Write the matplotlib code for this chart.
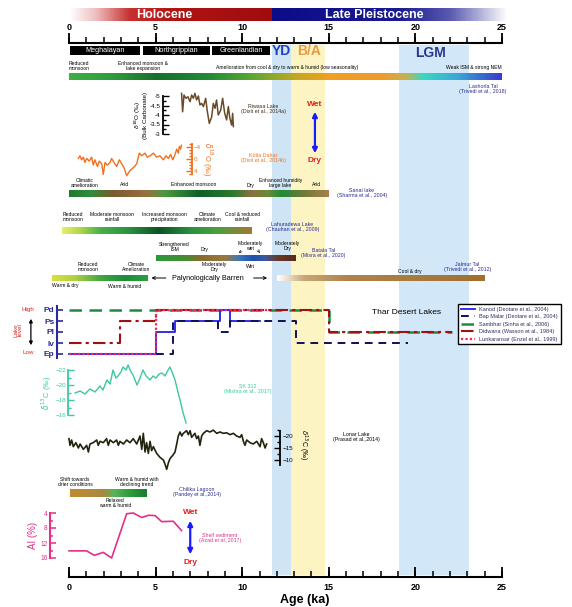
import numpy as np
import matplotlib
matplotlib.use('Agg')
import matplotlib.pyplot as plt
from matplotlib.colors import LinearSegmentedColormap

plt.rcParams['font.family'] = ['Liberation Sans', 'DejaVu Sans']

W, H = 572, 607
PX0, PXK = 69, 17.32   # pixel of 0 ka, pixels per ka

# ---------------- data ----------------
age_ticks = np.arange(0, 26, 1)
age_major = np.arange(0, 26, 5)

stage_names = ['Meghalayan', 'Northgrippian', 'Greenlandian']
stage_edges = [0, 4.2, 8.2, 11.7]
yd_span = (11.7, 12.8)
ba_span = (12.8, 14.8)
lgm_span = (19.05, 23.1)

riwasa_age = [6.50, 6.56, 6.64, 6.75, 6.87, 6.99, 7.08, 7.18, 7.27, 7.37, 7.47, 7.56, 7.66, 7.76,
              7.89, 7.99, 8.10, 8.24, 8.33, 8.43, 8.52, 8.62, 8.76, 8.87, 8.99, 9.10, 9.20, 9.29,
              9.39, 9.45, 9.49]
riwasa_d18o = [-5.14, -4.17, -5.05, -4.88, -4.96, -4.70, -5.05, -4.88, -5.14, -4.79, -5.00, -4.53,
               -4.61, -4.44, -4.88, -4.17, -3.56, -3.91, -4.61, -4.35, -4.79, -4.00, -4.26, -4.88,
               -4.09, -3.74, -4.44, -3.82, -3.47, -4.09, -3.39]

kotla_age = [0.54, 0.63, 0.73, 0.83, 0.92, 1.02, 1.17, 1.31, 1.40, 1.50, 1.64, 1.75, 1.89, 1.98,
             2.08, 2.21, 2.37, 2.46, 2.60, 2.75, 2.91, 3.04, 3.18, 3.33, 3.52, 3.71, 3.91, 4.06,
             4.20, 4.39, 4.52, 4.68, 4.87, 5.06, 5.25, 5.45, 5.60, 5.74, 5.87, 5.99, 6.12, 6.22,
             6.31, 6.37, 6.45, 6.49]
kotla_d18o = [-0.19, -1.07, 0.27, -0.62, 1.16, -0.19, 0.71, -0.62, 2.04, 0.27, 2.49, 0.71, 1.60,
              5.16, 1.16, 2.04, 1.16, -0.19, 1.16, 2.49, 0.27, 1.60, 2.93, 5.60, 3.82, 2.93, 1.60,
              -1.96, -1.07, -1.96, -0.62, -1.07, -1.96, -0.62, -1.07, 0.27, -1.07, -0.19, -1.51,
              0.27, -1.51, -3.29, -1.96, -4.18, -3.29, -4.62]

teal_age = [0.35, 0.64, 0.92, 1.21, 1.50, 1.79, 1.96, 2.19, 2.37, 2.54, 2.71, 2.83, 3.00, 3.12,
            3.29, 3.41, 3.58, 3.70, 3.81, 3.93, 4.10, 4.27, 4.45, 4.68, 4.85, 5.02, 5.20, 5.37,
            5.54, 5.72, 5.83, 5.95, 6.12, 6.29, 6.41, 6.52, 6.64, 6.76]
teal_d13c = [-18.93, -19.20, -18.80, -19.47, -19.07, -19.87, -19.33, -20.67, -20.13, -22.00,
             -20.93, -21.20, -21.73, -22.40, -22.00, -22.67, -21.73, -21.33, -20.67, -20.00,
             -20.93, -22.00, -21.20, -20.67, -21.20, -20.93, -21.47, -21.60, -21.20, -22.00,
             -22.40, -21.73, -20.67, -19.07, -18.00, -16.93, -15.87, -14.93]

lonar_age = [0.00, 0.06, 0.15, 0.25, 0.40, 0.54, 0.64, 0.83, 1.02, 1.12, 1.21, 1.40, 1.60, 1.69,
             1.79, 1.98, 2.17, 2.27, 2.37, 2.56, 2.75, 2.85, 2.94, 3.14, 3.33, 3.52, 3.71, 3.91,
             4.10, 4.20, 4.29, 4.39, 4.48, 4.58, 4.68, 4.77, 4.87, 5.06, 5.25, 5.45, 5.54, 5.64,
             5.74, 5.83, 6.02, 6.12, 6.22, 6.31, 6.41, 6.51, 6.60, 6.79, 6.89, 6.99, 7.08, 7.27,
             7.37, 7.47, 7.56, 7.66, 7.76, 7.95, 8.14, 8.33, 8.53, 8.72, 8.91, 9.10, 9.30, 9.49,
             9.68, 9.87, 9.97, 10.07, 10.16, 10.26, 10.45, 10.64, 10.84, 11.03, 11.12, 11.22,
             11.32, 11.41]
lonar_d13c = [-18.89, -16.11, -18.33, -15.56, -17.22, -15.00, -16.67, -14.44, -16.11, -13.33,
              -16.67, -17.22, -18.33, -16.11, -17.78, -17.22, -18.89, -16.11, -18.33, -17.22,
              -18.33, -16.11, -17.78, -16.67, -18.33, -17.22, -18.89, -16.67, -20.00, -14.44,
              -21.11, -13.33, -17.22, -12.78, -17.78, -13.89, -15.56, -12.78, -11.11, -10.00,
              -8.33, -6.11, -8.89, -10.56, -12.22, -13.33, -16.67, -20.00, -21.67, -20.00,
              -21.11, -22.22, -20.56, -22.22, -19.44, -21.11, -18.89, -20.00, -16.11, -20.00,
              -21.11, -22.22, -21.67, -22.44, -21.11, -21.67, -21.11, -21.33, -20.56, -21.11,
              -20.00, -19.44, -20.56, -17.78, -16.11, -18.33, -17.22, -16.67, -17.78, -15.56,
              -18.89, -17.22, -15.00, -16.67]

ai_age = [0, 1.02, 1.46, 1.98, 2.46, 3.33, 3.71, 4.2, 4.6, 4.97, 5.35, 6.02, 6.5]
ai_pct = [14.1, 14.1, 15.3, 14.5, 16.0, 4.2, 4.0, 5.2, 4.6, 4.7, 6.3, 6.2, 8.7]

lake_levels = ['Ep', 'Iv', 'Pl', 'Ps', 'Pd']
kanod_age = [0, 5.05, 5.05, 6.1, 6.1, 8.7, 8.7, 9.3, 9.3, 11.0]
kanod_lvl = [0, 0, 2, 2, 3, 3, 4, 4, 3, 3]
bap_age = [5.0, 6.0, 6.0, 8.6, 8.6, 9.3, 9.3, 13.1, 13.1, 19.6]
bap_lvl = [0, 0, 3, 3, 2, 2, 3, 3, 1, 1]
sambhar_age = [0, 15.0, 15.0, 22.1]
sambhar_lvl = [4, 4, 2, 2]
didwana_age = [0, 2.95, 2.95, 5.05, 5.05, 15.0, 15.0, 22.1]
didwana_lvl = [1, 1, 3, 3, 4, 4, 2, 2]
lunk_age = [0, 5.05, 5.05, 11.5]
lunk_lvl = [0, 0, 4, 4]

holocene_stops = [(0, '#ffffff'), (1.5, '#eec0c0'), (3.5, '#c83030'), (6, '#b01414'), (11.7, '#a00c0c')]
pleist_stops = [(11.7, '#0c0c88'), (19, '#1a1a90'), (22, '#5a5ab0'), (25.3, '#ffffff')]
lashorla_stops = [(0, '#3cb043'), (2.5, '#2e9a3e'), (5, '#16702c'), (8, '#238a36'), (10.5, '#5aa632'),
                  (13, '#c0a824'), (15, '#f0a020'), (18, '#f29a2a'), (19.5, '#c8b050'),
                  (20.5, '#38d8c0'), (22.5, '#3aa8d8'), (25, '#3c3cc8')]
sanai_stops = [(0, '#1f7a30'), (1.2, '#2e8e3a'), (2.5, '#7a5a30'), (4.5, '#9a7040'), (5.5, '#4a9a40'),
               (7.5, '#106028'), (9.5, '#2a7a30'), (10.5, '#8a7040'), (11.5, '#6a8a3a'),
               (12.3, '#1f8a35'), (13.5, '#6a7a3a'), (15, '#a88048')]
lahura_stops = [(-0.4, '#e6ec70'), (0.6, '#b0d848'), (1.8, '#48b048'), (3.5, '#2a9040'),
                (5.2, '#0c5426'), (7, '#2a9040'), (8.5, '#48a040'), (9.6, '#7a8a3a'), (10.55, '#a07838')]
batala_stops = [(5.0, '#2a9a3a'), (6.8, '#4a8a30'), (7.6, '#8a6a30'), (9.0, '#9a7a40'), (9.8, '#3a78b8'),
                (10.6, '#1f4fb0'), (11.3, '#3a5aa0'), (12.0, '#6a3a28'), (13.05, '#5a2a1a')]
jalmur_left_stops = [(-1.0, '#d8e040'), (0.3, '#b0d040'), (1.8, '#40a840'), (3.2, '#1e8c3a'), (4.5, '#2aa040')]
jalmur_right_stops = [(12.0, '#ffffff'), (13.5, '#c8a878'), (16, '#b0844a'), (24, '#a07030')]
chilika_stops = [(0.06, '#c08a30'), (2.0, '#a88a40'), (2.6, '#58b458'), (3.6, '#2a9a3a'), (4.5, '#1a7a30')]

NAVY = '#2b2b8f'

# ---------------- figure ----------------
fig = plt.figure(figsize=(W / 100, H / 100), dpi=100)
ax = fig.add_axes([0, 0, 1, 1])
ax.axis('off')


def box(k0, k1, y0, y1):
    return [(PX0 + PXK * k0) / W, 1 - y1 / H, PXK * (k1 - k0) / W, (y1 - y0) / H]


def grad_bar(stops, y0, y1, z=2):
    ks = [s[0] for s in stops]
    k0, k1 = ks[0], ks[-1]
    cm = LinearSegmentedColormap.from_list('g', [((k - k0) / (k1 - k0), c) for k, c in stops])
    ax.imshow(np.linspace(0, 1, 300)[None, :], cmap=cm, aspect='auto',
              extent=[k0, k1, y1, y0], zorder=z, interpolation='bilinear')


def lab(x, y, s, c='black', fs=3.6, ha='center', **kw):
    ax.text(x, y, s, color=c, fontsize=fs, ha=ha, va='center', linespacing=0.95, zorder=6, **kw)


def wetdry(x, yw, yd):
    lab(x, yw, 'Wet', c='#e02020', fs=6, fontweight='bold')
    lab(x, yd, 'Dry', c='#e02020', fs=6, fontweight='bold')
    ax.annotate('', xy=(x, yw + 5), xytext=(x, yd - 5),
                arrowprops=dict(arrowstyle='<|-|>', color='#1a1aff', lw=1.6, mutation_scale=7))


# shaded intervals
for span, col in [(yd_span, '#cfe5f5'), (ba_span, '#fdf4c4'), (lgm_span, '#d2e7f7')]:
    ax.fill_between(span, 45, 575, color=col, zorder=0, lw=0)

# era bars
grad_bar(holocene_stops, 8, 21)
grad_bar(pleist_stops, 8, 21)
lab(5.5, 14.5, 'Holocene', c='white', fs=9, fontweight='bold')
lab(17.6, 14.5, 'Late Pleistocene', c='white', fs=9, fontweight='bold')

# top and bottom age axes
for ybase in [43, 577]:
    ax.plot([0, 25], [ybase, ybase], color='black', lw=1.5, zorder=5)
    ax.vlines(age_ticks, ybase - 6, ybase, color='black', lw=1.1, zorder=5)
    ax.vlines(age_major, ybase - 10, ybase, color='black', lw=1.3, zorder=5)
for t in age_major:
    lab(t, 27, str(t), fs=6.5, fontweight='bold')
    lab(t, 587, str(t), fs=6.5, fontweight='bold')
lab(13.6, 600, 'Age (ka)', fs=9, fontweight='bold')

# stage boxes
for name, a0, a1 in zip(stage_names, stage_edges[:-1], stage_edges[1:]):
    ax.fill_between([a0 + 0.08, a1 - 0.08], 46, 55, color='black', zorder=3, lw=0)
    lab((a0 + a1) / 2, 50.5, name, c='white', fs=5.2)
lab(12.25, 51, 'YD', c='#2040c0', fs=10, fontweight='bold')
lab(13.85, 51, 'B/A', c='#e89a40', fs=10, fontweight='bold')
lab(20.9, 53, 'LGM', c='#2a3a8a', fs=10, fontweight='bold')

# Lashorla Tal
lab(0.0, 66, 'Reduced\nmonsoon', ha='left')
lab(4.3, 66, 'Enhanced monsoon &\nlake expansion')
lab(12.6, 67, 'Amelioration from cool & dry to warm & humid (low seasonality)')
lab(25.0, 67, 'Weak ISM & strong NEM', ha='right')
grad_bar(lashorla_stops, 73, 80)
lab(23.9, 89, 'Lashorla Tal\n(Trivedi et al., 2018)', c=NAVY, fs=3.8)

# Riwasa Lake
a = fig.add_axes(box(5.4, 9.6, 96, 134))
a.patch.set_visible(False)
a.plot(riwasa_age, riwasa_d18o, color='#6b4a2a', lw=1.1, clip_on=False)
a.set_xlim(5.4, 9.6)
a.set_ylim(-3, -5)
for s in ['top', 'right', 'bottom']:
    a.spines[s].set_visible(False)
a.spines['left'].set_linewidth(1.3)
a.set_xticks([])
a.set_yticks([-5, -4.5, -4, -3.5, -3])
a.set_yticklabels(['-5', '-4.5', '-4', '-3.5', '-3'])
a.set_yticks(np.arange(-5, -2.9, 0.25), minor=True)
a.tick_params(axis='y', which='both', direction='in', labelsize=4.5, pad=1.5, length=4, width=1)
a.tick_params(axis='y', which='minor', length=2.5)
a.set_ylabel('$\\delta^{18}$O (‰)\n(Bulk Carbonate)', fontsize=4.5, labelpad=1, linespacing=1)
lab(11.2, 109, 'Riwasa Lake\n(Dixit et al., 2014a)', c='#3a2a1a', fs=3.8)

# Kotla Dahar
a = fig.add_axes(box(0.4, 7.08, 144, 174))
a.patch.set_visible(False)
a.plot(kotla_age, kotla_d18o, color='#f07020', lw=1.0, clip_on=False)
a.set_xlim(0.4, 7.08)
a.set_ylim(4, -4)
for s in ['top', 'left', 'bottom']:
    a.spines[s].set_visible(False)
a.spines['right'].set_color('#f07020')
a.spines['right'].set_linewidth(1.3)
a.set_xticks([])
a.yaxis.tick_right()
a.set_yticks([-4, 0, 4])
a.set_yticks(np.arange(-5, 6, 1), minor=True)
a.tick_params(axis='y', which='both', direction='in', labelsize=4.5, pad=1.5, length=4,
              width=1, colors='#f07020')
a.tick_params(axis='y', which='minor', length=2.5)
a.yaxis.set_label_position('right')
a.set_ylabel('$\\delta^{18}$O (‰)', fontsize=5.5, color='#f07020', rotation=270, labelpad=10)
lab(11.2, 158, 'Kotla Dahar\n(Dixit et al., 2014b)', c='#f07020', fs=3.8)

wetdry(14.2, 104, 161)

# Sanai lake
lab(0.9, 183, 'Climatic\namelioration')
lab(3.2, 185, 'Arid')
lab(7.2, 185, 'Enhanced monsoon')
lab(10.5, 185, 'Dry')
lab(12.2, 183, 'Enhanced humidity\nlarge lake')
lab(14.3, 185, 'Arid')
grad_bar(sanai_stops, 190, 197)
lab(16.9, 193, 'Sanai lake\n(Sharma et al., 2004)', c=NAVY, fs=3.8)

# Lahuradewa Lake
lab(0.25, 217, 'Reduced\nmonsoon')
lab(2.5, 217, 'Moderate monsoon\nrainfall')
lab(5.5, 217, 'Increased monsoon\nprecipitation')
lab(8.0, 217, 'Climate\namelioration')
lab(10.0, 217, 'Cool & reduced\nrainfall')
grad_bar(lahura_stops, 227, 234)
lab(12.9, 227, 'Lahuradewa Lake\n(Chauhan et al., 2009)', c=NAVY, fs=3.8)

# Batala Tal
lab(6.1, 247, 'Strengthened\nISM')
lab(7.8, 249, 'Dry')
lab(10.45, 246, 'Moderately\nwet')
lab(12.6, 246, 'Moderately\nDry')
grad_bar(batala_stops, 255, 261)
lab(8.4, 267, 'Moderately\nDry')
lab(10.45, 266, 'Wet')
ax.annotate('', xy=(9.7, 255), xytext=(10.0, 250),
            arrowprops=dict(arrowstyle='->', lw=0.5, color='black', mutation_scale=4))
ax.annotate('', xy=(11.1, 255), xytext=(10.9, 250),
            arrowprops=dict(arrowstyle='->', lw=0.5, color='black', mutation_scale=4))
lab(14.7, 253, 'Batala Tal\n(Misra et al., 2020)', c=NAVY, fs=3.8)

# Jalmur Tal
lab(1.1, 267, 'Reduced\nmonsoon')
lab(3.9, 267, 'Climate\nAmelioration')
grad_bar(jalmur_left_stops, 275, 281)
lab(-0.2, 286, 'Warm & dry')
lab(3.2, 286, 'Warm & humid')
lab(8.0, 278, 'Palynologically Barren', fs=5.2)
ax.annotate('', xy=(4.6, 278), xytext=(5.75, 278),
            arrowprops=dict(arrowstyle='->', lw=0.7, color='black', mutation_scale=5))
ax.annotate('', xy=(11.6, 278), xytext=(10.5, 278),
            arrowprops=dict(arrowstyle='->', lw=0.7, color='black', mutation_scale=5))
grad_bar(jalmur_right_stops, 275, 281)
lab(19.7, 271, 'Cool & dry')
lab(23.0, 267, 'Jalmur Tal\n(Trivedi et al., 2012)', c=NAVY, fs=3.8)

# Thar Desert lakes
a = fig.add_axes(box(-0.69, 25, 306.15, 357.85))
a.patch.set_visible(False)
a.plot(sambhar_age, sambhar_lvl, color='#208a40', lw=1.8, ls=(0, (5, 3)), clip_on=False,
       label='Sambhar (Sinha et al., 2006)')
a.plot(didwana_age, didwana_lvl, color='#a01010', lw=1.5, ls=(0, (6, 2, 1.5, 2)), clip_on=False,
       label='Didwana (Wasson et al., 1984)')
a.plot(kanod_age, kanod_lvl, color='#2020f0', lw=1.3, clip_on=False,
       label='Kanod (Deotare et al., 2004)')
a.plot(bap_age, bap_lvl, color='#101050', lw=1.4, ls=(0, (4, 3)), clip_on=False,
       label='Bap Malar (Deotare et al., 2004)')
a.plot(lunk_age, lunk_lvl, color='#ff2060', lw=1.6, ls=(0, (1, 1)), clip_on=False,
       label='Lunkaransar (Enzel et al., 1999)')
a.set_xlim(-0.69, 25)
a.set_ylim(-0.35, 4.35)
for s in ['top', 'right', 'bottom']:
    a.spines[s].set_visible(False)
a.spines['left'].set_color('#2a2a9a')
a.spines['left'].set_linewidth(1.5)
a.set_xticks([])
a.set_yticks(range(len(lake_levels)))
a.set_yticklabels(lake_levels, fontsize=6, fontweight='bold', color='#2a2a9a')
a.tick_params(axis='y', direction='in', length=4, width=1.2, colors='#2a2a9a', pad=2)
h, l = a.get_legend_handles_labels()
order = [2, 3, 0, 1, 4]
leg = a.legend([h[i] for i in order], [l[i] for i in order], loc='upper left',
               bbox_to_anchor=(455 / W, 1 - 301 / H), bbox_transform=fig.transFigure,
               fontsize=4, handlelength=2.6, labelspacing=0.45, borderpad=0.5,
               fancybox=False, framealpha=1, edgecolor='black', labelcolor='#303060')
leg.get_frame().set_linewidth(1.0)
lab(19.5, 313, 'Thar Desert Lakes', fs=6)
lab(-2.35, 309, 'High', c='#e02020', fs=4.5)
lab(-2.35, 353, 'Low', c='#e02020', fs=4.5)
lab(-2.95, 330, 'Lake\nlevel', c='#e02020', fs=4.5, rotation=90)
ax.annotate('', xy=(-2.2, 316), xytext=(-2.2, 348),
            arrowprops=dict(arrowstyle='<|-|>', color='black', lw=0.9, mutation_scale=5))

# teal d13C
a = fig.add_axes(box(-0.06, 7.0, 370, 415))
a.patch.set_visible(False)
a.plot(teal_age, teal_d13c, color='#3cc8a0', lw=1.0, clip_on=False)
a.set_xlim(-0.06, 7.0)
a.set_ylim(-16, -22)
for s in ['top', 'right', 'bottom']:
    a.spines[s].set_visible(False)
a.spines['left'].set_color('#3cc8a0')
a.spines['left'].set_linewidth(1.3)
a.set_xticks([])
a.set_yticks([-22, -20, -18, -16])
a.set_yticks(np.arange(-22, -15.5, 1), minor=True)
a.tick_params(axis='y', which='both', direction='in', labelsize=4.5, pad=1.5, length=4,
              width=1, colors='#3cc8a0')
a.tick_params(axis='y', which='minor', length=2.5)
a.set_ylabel('$\\delta^{13}$C (‰)', fontsize=5.5, color='#3cc8a0', labelpad=1)
lab(10.3, 389, 'SK 312\n(Mishra et al., 2017)', c='#3cc8a0', fs=3.8)

# Lonar Lake
a = fig.add_axes(box(-0.5, 12.2, 430, 460))
a.patch.set_visible(False)
a.plot(lonar_age, lonar_d13c, color='#23230f', lw=1.2, clip_on=False)
a.set_xlim(-0.5, 12.2)
a.set_ylim(-10, -20)
for s in ['top', 'left', 'bottom']:
    a.spines[s].set_visible(False)
a.spines['right'].set_linewidth(1.3)
a.spines['right'].set_bounds(-22, -8)
a.set_xticks([])
a.yaxis.tick_right()
a.set_yticks([-20, -15, -10])
a.set_yticks(np.arange(-22.5, -7.5, 2.5), minor=True)
a.tick_params(axis='y', which='both', direction='in', labelsize=4.5, pad=1.5, length=4, width=1)
a.tick_params(axis='y', which='minor', length=2.5)
a.yaxis.set_label_position('right')
a.set_ylabel('$\\delta^{13}$C (‰)', fontsize=5, rotation=270, labelpad=12)
lab(16.6, 437, 'Lonar Lake\n(Prasad et al.,2014)', fs=3.8)

# Chilika Lagoon
lab(0.35, 482, 'Shift towards\ndrier conditions')
lab(3.9, 482, 'Warm & humid with\ndeclining trend')
grad_bar(chilika_stops, 489, 497)
lab(2.65, 503, 'Relaxed\nwarm & humid')
lab(7.4, 492, 'Chilika Lagoon\n(Pandey et al.,2014)', c=NAVY, fs=3.8)

# Shelf sediment AI
a = fig.add_axes(box(-1.1, 7.0, 513, 558))
a.patch.set_visible(False)
a.plot(ai_age, ai_pct, color='#e0308a', lw=1.2, clip_on=False)
a.set_xlim(-1.1, 7.0)
a.set_ylim(16, 4)
for s in ['top', 'right', 'bottom']:
    a.spines[s].set_visible(False)
a.spines['left'].set_color('#e0308a')
a.spines['left'].set_linewidth(1.5)
a.set_xticks([])
a.set_yticks([4, 8, 12, 16])
a.set_yticks(np.arange(4, 17, 2), minor=True)
a.tick_params(axis='y', which='both', direction='in', labelsize=4.8, pad=1.5, length=4,
              width=1.1, colors='#e0308a')
a.tick_params(axis='y', which='minor', length=2.5)
a.set_ylabel('AI (%)', fontsize=7, color='#e0308a', labelpad=2)
wetdry(7.0, 513, 562)
lab(8.7, 538, 'Shelf sediment\n(Azad et al.,2017)', c='#e0308a', fs=3.8)

ax.set_xlim(-PX0 / PXK, (W - PX0) / PXK)
ax.set_ylim(H, 0)

fig.savefig('out.png', dpi=100)
